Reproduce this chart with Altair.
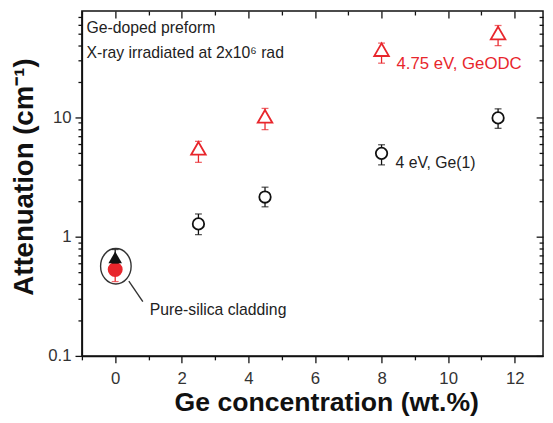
import altair as alt
import pandas as pd

# ---- data ----
ge_conc = [2.5, 4.5, 8.0, 11.5]
ge1_val = [1.28, 2.15, 5.0, 9.9]
ge1_lo = [1.04, 1.78, 4.0, 8.1]
ge1_hi = [1.55, 2.6, 5.9, 11.8]
odc_val = [5.5, 10.2, 37.0, 51.0]
odc_lo = [4.2, 7.9, 28.5, 40.0]
odc_hi = [6.3, 11.9, 42.0, 59.0]

clad_x = [0.0]
clad_tri_val = [0.67]
clad_tri_lo = [0.6]
clad_tri_hi = [0.78]
clad_circ_val = [0.53]
clad_circ_lo = [0.42]
clad_circ_hi = [0.6]

ellipse_x = [0.02]
ellipse_y = [0.565]
leader_x = [0.41]
leader_y = [0.424]
leader_x2 = [0.83]
leader_y2 = [0.285]

label_text = ["Ge-doped preform", "X-ray irradiated at 2x10\u2076 rad",
              "4.75 eV, GeODC", "4 eV, Ge(1)", "Pure-silica cladding"]
label_x = [-0.86, -0.86, 8.45, 8.42, 1.04]
label_y = [56.0, 34.8, 28.2, 4.14, 0.24]
label_color = ["#222222", "#222222", "#e8262c", "#222222", "#222222"]
label_size = [16, 16, 17, 16, 16]

x_major = [0, 2, 4, 6, 8, 10, 12]
x_minor = [-1, 1, 3, 5, 7, 9, 11]
y_major = [0.1, 1, 10]
y_minor = [0.2, 0.3, 0.4, 0.5, 0.6, 0.7, 0.8, 0.9,
           2, 3, 4, 5, 6, 7, 8, 9, 20, 30, 40, 50, 60, 70]

RED = "#e8262c"
BLACK = "#111111"
FONT = "Liberation Sans"

X_SCALE = alt.Scale(domain=[-1, 12.85], nice=False, zero=False)
Y_SCALE = alt.Scale(type="log", domain=[0.1, 78], nice=False)

ge1 = pd.DataFrame({"x": ge_conc, "v": ge1_val, "lo": ge1_lo, "hi": ge1_hi})
odc = pd.DataFrame({"x": ge_conc, "v": odc_val, "lo": odc_lo, "hi": odc_hi})
clad_t = pd.DataFrame({"x": clad_x, "v": clad_tri_val, "lo": clad_tri_lo, "hi": clad_tri_hi})
clad_c = pd.DataFrame({"x": clad_x, "v": clad_circ_val, "lo": clad_circ_lo, "hi": clad_circ_hi})


def caps(df):
    return pd.concat([pd.DataFrame({"x": df["x"], "y": df["lo"]}),
                      pd.DataFrame({"x": df["x"], "y": df["hi"]})], ignore_index=True)


MAJOR_TEST_X = "datum.value % 2 == 0"
MAJOR_TEST_Y = "datum.value == 0.1 || datum.value == 1 || datum.value == 10"

axis_bottom = alt.Axis(
    orient="bottom", values=x_major + x_minor, title="Ge concentration (wt.%)",
    tickSize={"condition": {"test": MAJOR_TEST_X, "value": 7}, "value": 4},
    labelExpr=f"({MAJOR_TEST_X}) ? datum.label : ''",
    labelFont=FONT, labelFontSize=17, labelColor="#333333", labelPadding=8,
    titleFont=FONT, titleFontSize=27, titleFontWeight="bold", titleColor=BLACK,
    titleX=248, titleY=34, titleBaseline="top",
    domainColor=BLACK, domainWidth=1.5, tickColor=BLACK, tickWidth=1.3, grid=False,
)
axis_left = alt.Axis(
    orient="left", values=y_major + y_minor, title="Attenuation (cm\u207b\u00b9)",
    tickSize={"condition": {"test": MAJOR_TEST_Y, "value": 7}, "value": 4},
    labelExpr=("datum.value == 0.1 ? '0.1' : datum.value == 1 ? '1' : "
               "datum.value == 10 ? '10' : ''"),
    labelFont=FONT, labelFontSize=17, labelColor="#333333", labelPadding=4,
    titleFont=FONT, titleFontSize=28, titleFontWeight="bold", titleColor=BLACK,
    titleX=-44, titleY=168, titleAngle=-90, titleBaseline="bottom",
    domainColor=BLACK, domainWidth=1.5, tickColor=BLACK, tickWidth=1.3, grid=False,
)


def inner_axis(orient, vals, size):
    return alt.Axis(orient=orient, values=vals, offset=-size, tickSize=size,
                    labels=False, domain=False, title=None, grid=False,
                    tickColor=BLACK, tickWidth=1.3)


X_NONE = alt.X("x:Q", scale=X_SCALE, axis=None)

# layer carrying bottom + left axes
l_rule_ge1 = alt.Chart(ge1).mark_rule(color=BLACK, strokeWidth=1.3).encode(
    x=alt.X("x:Q", scale=X_SCALE, axis=axis_bottom),
    y=alt.Y("lo:Q", scale=Y_SCALE, axis=axis_left),
    y2="hi:Q",
)
# layer carrying top major + right major axes
l_caps_ge1 = alt.Chart(caps(ge1)).mark_tick(
    orient="horizontal", size=7, thickness=1.3, color=BLACK).encode(
    x=alt.X("x:Q", scale=X_SCALE, axis=inner_axis("top", x_major, 7)),
    y=alt.Y("y:Q", scale=Y_SCALE, axis=inner_axis("right", y_major, 7)),
)
# layer carrying top minor + right minor axes
l_pts_ge1 = alt.Chart(ge1).mark_point(
    shape="circle", size=135, fill="white", fillOpacity=1, filled=False,
    stroke=BLACK, strokeWidth=1.8).encode(
    x=alt.X("x:Q", scale=X_SCALE, axis=inner_axis("top", x_minor, 4)),
    y=alt.Y("v:Q", scale=Y_SCALE, axis=inner_axis("right", y_minor, 4)),
)

l_rule_odc = alt.Chart(odc).mark_rule(color=RED, strokeWidth=1.3).encode(
    x=X_NONE, y=alt.Y("lo:Q", scale=Y_SCALE, axis=None), y2="hi:Q")
l_caps_odc = alt.Chart(caps(odc)).mark_tick(
    orient="horizontal", size=7, thickness=1.3, color=RED).encode(
    x=X_NONE, y=alt.Y("y:Q", scale=Y_SCALE, axis=None))
l_pts_odc = alt.Chart(odc).mark_point(
    shape="triangle-up", size=220, fill="white", fillOpacity=1, filled=False,
    stroke=RED, strokeWidth=1.8).encode(
    x=X_NONE, y=alt.Y("v:Q", scale=Y_SCALE, axis=None))

l_rule_ct = alt.Chart(clad_t).mark_rule(color=BLACK, strokeWidth=1.3).encode(
    x=X_NONE, y=alt.Y("lo:Q", scale=Y_SCALE, axis=None), y2="hi:Q")
l_caps_ct = alt.Chart(caps(clad_t)).mark_tick(
    orient="horizontal", size=7, thickness=1.3, color=BLACK).encode(
    x=X_NONE, y=alt.Y("y:Q", scale=Y_SCALE, axis=None))
l_pts_ct = alt.Chart(clad_t).mark_point(
    shape="triangle-up", size=190, filled=True, fill=BLACK, opacity=1).encode(
    x=X_NONE, y=alt.Y("v:Q", scale=Y_SCALE, axis=None))

l_rule_cc = alt.Chart(clad_c).mark_rule(color=RED, strokeWidth=1.3).encode(
    x=X_NONE, y=alt.Y("lo:Q", scale=Y_SCALE, axis=None), y2="hi:Q")
l_caps_cc = alt.Chart(caps(clad_c)).mark_tick(
    orient="horizontal", size=7, thickness=1.3, color=RED).encode(
    x=X_NONE, y=alt.Y("y:Q", scale=Y_SCALE, axis=None))
l_pts_cc = alt.Chart(clad_c).mark_point(
    shape="circle", size=230, filled=True, fill=RED, opacity=1).encode(
    x=X_NONE, y=alt.Y("v:Q", scale=Y_SCALE, axis=None))

ell = pd.DataFrame({"x": ellipse_x, "y": ellipse_y})
l_ellipse = alt.Chart(ell).mark_point(
    shape="M -1 0 A 1 1.16 0 1 1 1 0 A 1 1.16 0 1 1 -1 0 Z",
    size=961, filled=False, fillOpacity=0, stroke="#333333", strokeWidth=1.4,
    opacity=1).encode(
    x=X_NONE, y=alt.Y("y:Q", scale=Y_SCALE, axis=None))

lead = pd.DataFrame({"x": leader_x, "y": leader_y, "x2": leader_x2, "y2": leader_y2})
l_leader = alt.Chart(lead).mark_rule(color="#333333", strokeWidth=1.4).encode(
    x=X_NONE, y=alt.Y("y:Q", scale=Y_SCALE, axis=None), x2="x2:Q", y2="y2:Q")

labels = pd.DataFrame({"x": label_x, "y": label_y, "t": label_text,
                       "c": label_color, "s": label_size})
l_text = alt.Chart(labels).mark_text(
    align="left", baseline="middle", font=FONT).encode(
    x=X_NONE, y=alt.Y("y:Q", scale=Y_SCALE, axis=None), text="t:N",
    color=alt.Color("c:N", scale=None),
    size=alt.Size("s:Q", scale=None))

chart = alt.layer(
    l_rule_ge1, l_caps_ge1, l_pts_ge1,
    l_rule_odc, l_caps_odc, l_pts_odc,
    l_ellipse, l_leader,
    l_rule_cc, l_caps_cc, l_pts_cc,
    l_rule_ct, l_caps_ct, l_pts_ct,
    l_text,
).resolve_axis(x="independent", y="independent").properties(
    width=468, height=350,
    autosize=alt.AutoSizeParams(type="none"),
    padding={"left": 75, "top": 0, "right": 2, "bottom": 65},
    background="white",
).configure_view(stroke=BLACK, strokeWidth=1.5)

chart.save("out.html", embed_options={"renderer": "svg", "actions": False})
